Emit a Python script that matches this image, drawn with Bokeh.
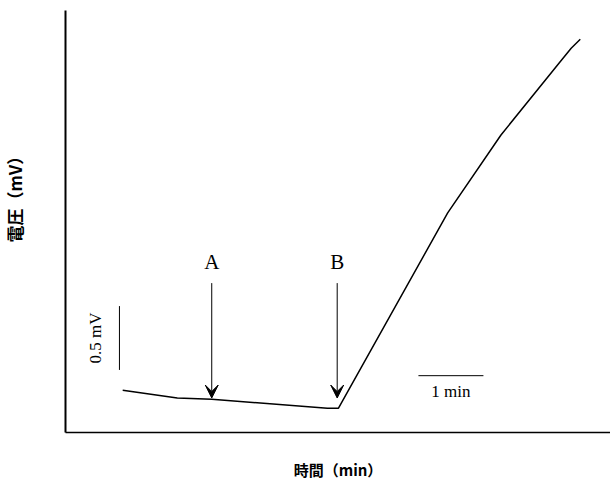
from bokeh.plotting import figure
from bokeh.models import Range1d, Label, Arrow, VeeHead, FixedTicker, Title
from bokeh.embed import file_html
from bokeh.resources import INLINE

# trace (time in min, voltage in mV)
time_min = [0.88, 1.72, 2.25, 4.03, 4.20, 5.88, 6.70, 7.62, 7.78, 7.92]
voltage_mv = [0.33, 0.27, 0.26, 0.19, 0.19, 1.72, 2.33, 2.91, 3.01, 3.08]

# event arrows
arrow_labels = ["A", "B"]
arrow_x = [2.25, 4.18]
arrow_top = [1.17, 1.17]
arrow_tip = [0.27, 0.27]

# scale bars
scale_v_x = 0.83
scale_v = [0.49, 0.99]
scale_v_label = "0.5 mV"
scale_h_y = 0.445
scale_h = [5.43, 6.43]
scale_h_label = "1 min"

x_label = "時間（min）"
y_label = "電圧（mV）"

p = figure(width=610, height=482, output_backend="svg", toolbar_location=None,
           x_range=Range1d(0, 8.385), y_range=Range1d(0, 3.305),
           min_border_left=65, min_border_right=0, min_border_top=10, min_border_bottom=49)
p.outline_line_color = None
p.grid.visible = False
p.background_fill_color = "white"
p.border_fill_color = "white"
for ax in (p.xaxis[0], p.yaxis[0]):
    ax.ticker = FixedTicker(ticks=[])
    ax.major_label_text_font_size = "0px"
    ax.major_tick_line_color = None
    ax.minor_tick_line_color = None
    ax.major_tick_out = 0
    ax.major_tick_in = 0
    ax.minor_tick_out = 0
    ax.major_label_standoff = 0
    ax.axis_line_color = "black"
p.yaxis[0].axis_line_width = 2
p.xaxis[0].axis_line_width = 1.5

# blank y-axis label used only as spacer so the title sits further left
p.yaxis[0].axis_label = " "
p.yaxis[0].axis_label_text_font_size = "10px"
p.yaxis[0].axis_label_standoff = 24

p.xaxis[0].axis_label = x_label
p.xaxis[0].axis_label_standoff = 26
p.xaxis[0].axis_label_text_font = "Noto Sans CJK JP"
p.xaxis[0].axis_label_text_font_style = "bold"
p.xaxis[0].axis_label_text_font_size = "15px"
p.xaxis[0].axis_label_text_color = "black"

p.add_layout(Title(text=y_label, align="left", offset=190, standoff=0, vertical_align="middle",
                   text_font="Noto Sans CJK JP", text_font_style="bold",
                   text_font_size="17px", text_color="black"), "left")

p.line(time_min, voltage_mv, line_color="black", line_width=1.5)

for lab, x, top, tip in zip(arrow_labels, arrow_x, arrow_top, arrow_tip):
    p.add_layout(Arrow(end=VeeHead(size=13, fill_color="black", line_color="black", line_width=1),
                       x_start=x, y_start=top, x_end=x, y_end=tip,
                       line_color="black", line_width=1))
    p.add_layout(Label(x=x, y=top, text=lab, text_align="center", text_baseline="bottom",
                       y_offset=9, text_font="Liberation Serif", text_font_size="21px",
                       text_color="black"))

p.line([scale_v_x, scale_v_x], scale_v, line_color="black", line_width=1)
p.line(scale_h, [scale_h_y, scale_h_y], line_color="black", line_width=1)

p.add_layout(Label(x=scale_v_x, y=sum(scale_v) / 2, text=scale_v_label, angle=90, angle_units="deg",
                   text_align="center", text_baseline="bottom", x_offset=-14,
                   text_font="Liberation Serif", text_font_size="17px", text_color="black"))
p.add_layout(Label(x=sum(scale_h) / 2, y=scale_h_y, text=scale_h_label,
                   text_align="center", text_baseline="top", y_offset=-6,
                   text_font="Liberation Serif", text_font_size="17px", text_color="black"))

open("out.html", "w").write(file_html(p, INLINE))
